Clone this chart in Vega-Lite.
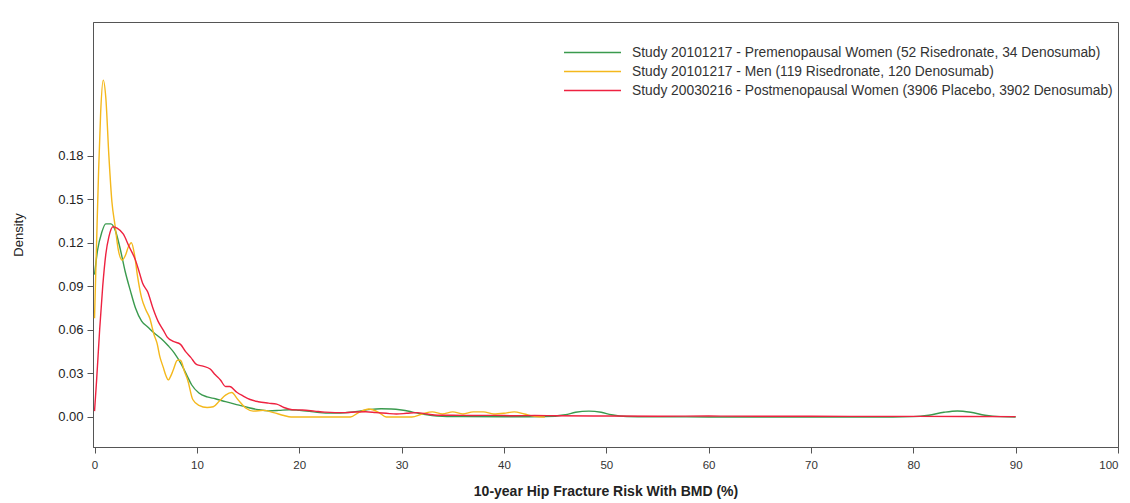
{
  "$schema": "https://vega.github.io/schema/vega-lite/v6.json",
  "width": 1025,
  "height": 425,
  "autosize": {"type": "none"},
  "padding": {"left": 93, "top": 22, "right": 12, "bottom": 56},
  "background": "white",
  "config": {
    "font": "Liberation Sans",
    "view": {"stroke": "#555", "strokeWidth": 1}
  },
  "data": {"values": [
    {"s":"G","x":0,"y":0.098},{"s":"G","x":0.3,"y":0.115},{"s":"G","x":0.7,"y":0.127},{"s":"G","x":1.1,"y":0.133},{"s":"G","x":1.6,"y":0.133},{"s":"G","x":2.0,"y":0.129},{"s":"G","x":2.5,"y":0.116},{"s":"G","x":3.0,"y":0.1},{"s":"G","x":3.5,"y":0.087},{"s":"G","x":4.0,"y":0.075},{"s":"G","x":4.6,"y":0.066},{"s":"G","x":5.2,"y":0.062},{"s":"G","x":5.8,"y":0.058},{"s":"G","x":6.5,"y":0.054},{"s":"G","x":7.2,"y":0.049},{"s":"G","x":7.8,"y":0.044},{"s":"G","x":8.5,"y":0.036},{"s":"G","x":9.0,"y":0.029},{"s":"G","x":9.5,"y":0.022},{"s":"G","x":10.2,"y":0.0165},{"s":"G","x":11.0,"y":0.0138},{"s":"G","x":11.8,"y":0.0125},{"s":"G","x":12.8,"y":0.0105},{"s":"G","x":14.0,"y":0.0083},{"s":"G","x":15.0,"y":0.0065},{"s":"G","x":16.0,"y":0.005},{"s":"G","x":17.0,"y":0.0042},{"s":"G","x":18.0,"y":0.0045},{"s":"G","x":19.0,"y":0.005},{"s":"G","x":20,"y":0.0045},{"s":"G","x":21,"y":0.0038},{"s":"G","x":22,"y":0.003},{"s":"G","x":23,"y":0.0026},{"s":"G","x":24,"y":0.0027},{"s":"G","x":25,"y":0.0032},{"s":"G","x":26,"y":0.0042},{"s":"G","x":27,"y":0.0052},{"s":"G","x":28,"y":0.0056},{"s":"G","x":29,"y":0.0055},{"s":"G","x":30,"y":0.0048},{"s":"G","x":31,"y":0.0035},{"s":"G","x":32,"y":0.002},{"s":"G","x":33,"y":0.001},{"s":"G","x":34,"y":0.0005},{"s":"G","x":36,"y":0.0002},{"s":"G","x":40,"y":0.0001},{"s":"G","x":44,"y":0.0002},{"s":"G","x":46,"y":0.0015},{"s":"G","x":47,"y":0.0032},{"s":"G","x":48.3,"y":0.004},{"s":"G","x":49.5,"y":0.0032},{"s":"G","x":50.5,"y":0.0015},{"s":"G","x":52,"y":0.0003},{"s":"G","x":55,"y":0.0001},{"s":"G","x":60,"y":0},{"s":"G","x":70,"y":0},{"s":"G","x":78,"y":0},{"s":"G","x":80,"y":0.0002},{"s":"G","x":81.5,"y":0.0012},{"s":"G","x":83,"y":0.0032},{"s":"G","x":84.3,"y":0.0041},{"s":"G","x":85.6,"y":0.0032},{"s":"G","x":87,"y":0.0012},{"s":"G","x":88.5,"y":0.0002},{"s":"G","x":90,"y":0},
    {"s":"Y","x":0,"y":0.068},{"s":"Y","x":0.2,"y":0.12},{"s":"Y","x":0.4,"y":0.17},{"s":"Y","x":0.6,"y":0.21},{"s":"Y","x":0.85,"y":0.232},{"s":"Y","x":1.1,"y":0.22},{"s":"Y","x":1.4,"y":0.18},{"s":"Y","x":1.7,"y":0.148},{"s":"Y","x":2.0,"y":0.132},{"s":"Y","x":2.3,"y":0.116},{"s":"Y","x":2.7,"y":0.108},{"s":"Y","x":3.0,"y":0.111},{"s":"Y","x":3.3,"y":0.117},{"s":"Y","x":3.6,"y":0.12},{"s":"Y","x":3.9,"y":0.112},{"s":"Y","x":4.2,"y":0.097},{"s":"Y","x":4.6,"y":0.082},{"s":"Y","x":5.0,"y":0.074},{"s":"Y","x":5.4,"y":0.068},{"s":"Y","x":5.8,"y":0.057},{"s":"Y","x":6.1,"y":0.051},{"s":"Y","x":6.4,"y":0.041},{"s":"Y","x":6.7,"y":0.0345},{"s":"Y","x":7.0,"y":0.028},{"s":"Y","x":7.2,"y":0.0255},{"s":"Y","x":7.5,"y":0.029},{"s":"Y","x":7.7,"y":0.0325},{"s":"Y","x":8.1,"y":0.039},{"s":"Y","x":8.4,"y":0.039},{"s":"Y","x":8.8,"y":0.031},{"s":"Y","x":9.1,"y":0.0255},{"s":"Y","x":9.6,"y":0.012},{"s":"Y","x":10.2,"y":0.008},{"s":"Y","x":11.0,"y":0.0065},{"s":"Y","x":11.6,"y":0.007},{"s":"Y","x":12.2,"y":0.011},{"s":"Y","x":12.8,"y":0.015},{"s":"Y","x":13.4,"y":0.0168},{"s":"Y","x":14.0,"y":0.012},{"s":"Y","x":14.8,"y":0.006},{"s":"Y","x":15.5,"y":0.004},{"s":"Y","x":16.5,"y":0.0045},{"s":"Y","x":17.5,"y":0.003},{"s":"Y","x":18.5,"y":0.001},{"s":"Y","x":19.2,"y":0},{"s":"Y","x":25,"y":0},{"s":"Y","x":25.8,"y":0.003},{"s":"Y","x":26.8,"y":0.0055},{"s":"Y","x":27.8,"y":0.003},{"s":"Y","x":28.5,"y":0},{"s":"Y","x":31,"y":0},{"s":"Y","x":32,"y":0.002},{"s":"Y","x":33,"y":0.0035},{"s":"Y","x":34,"y":0.002},{"s":"Y","x":35,"y":0.0035},{"s":"Y","x":36,"y":0.002},{"s":"Y","x":37,"y":0.0035},{"s":"Y","x":38,"y":0.0035},{"s":"Y","x":39,"y":0.002},{"s":"Y","x":40,"y":0.0025},{"s":"Y","x":41,"y":0.0035},{"s":"Y","x":42,"y":0.002},{"s":"Y","x":43,"y":0.0005},{"s":"Y","x":44,"y":0},
    {"s":"R","x":0,"y":0.004},{"s":"R","x":0.2,"y":0.025},{"s":"R","x":0.5,"y":0.06},{"s":"R","x":0.8,"y":0.09},{"s":"R","x":1.1,"y":0.112},{"s":"R","x":1.4,"y":0.124},{"s":"R","x":1.8,"y":0.131},{"s":"R","x":2.2,"y":0.13},{"s":"R","x":2.8,"y":0.126},{"s":"R","x":3.4,"y":0.117},{"s":"R","x":4.0,"y":0.108},{"s":"R","x":4.4,"y":0.099},{"s":"R","x":4.7,"y":0.092},{"s":"R","x":5.2,"y":0.086},{"s":"R","x":5.7,"y":0.075},{"s":"R","x":6.2,"y":0.066},{"s":"R","x":6.7,"y":0.06},{"s":"R","x":7.1,"y":0.055},{"s":"R","x":7.7,"y":0.052},{"s":"R","x":8.4,"y":0.05},{"s":"R","x":8.9,"y":0.045},{"s":"R","x":9.4,"y":0.041},{"s":"R","x":10.0,"y":0.036},{"s":"R","x":10.6,"y":0.035},{"s":"R","x":11.3,"y":0.033},{"s":"R","x":11.8,"y":0.029},{"s":"R","x":12.3,"y":0.0255},{"s":"R","x":12.8,"y":0.021},{"s":"R","x":13.2,"y":0.021},{"s":"R","x":13.9,"y":0.017},{"s":"R","x":14.5,"y":0.0145},{"s":"R","x":15.2,"y":0.012},{"s":"R","x":16,"y":0.0105},{"s":"R","x":17,"y":0.0095},{"s":"R","x":17.8,"y":0.0088},{"s":"R","x":18.5,"y":0.0065},{"s":"R","x":19.3,"y":0.005},{"s":"R","x":20.3,"y":0.0048},{"s":"R","x":21.5,"y":0.004},{"s":"R","x":22.5,"y":0.0033},{"s":"R","x":23.5,"y":0.003},{"s":"R","x":24.5,"y":0.003},{"s":"R","x":25.5,"y":0.0034},{"s":"R","x":26.5,"y":0.0036},{"s":"R","x":27.5,"y":0.003},{"s":"R","x":28.5,"y":0.0025},{"s":"R","x":29.5,"y":0.002},{"s":"R","x":30.5,"y":0.0025},{"s":"R","x":31.5,"y":0.003},{"s":"R","x":32.5,"y":0.002},{"s":"R","x":33.5,"y":0.0012},{"s":"R","x":35,"y":0.0012},{"s":"R","x":37,"y":0.001},{"s":"R","x":39,"y":0.0011},{"s":"R","x":41,"y":0.0008},{"s":"R","x":43,"y":0.001},{"s":"R","x":45,"y":0.0008},{"s":"R","x":50,"y":0.0006},{"s":"R","x":55,"y":0.0005},{"s":"R","x":60,"y":0.0006},{"s":"R","x":65,"y":0.0005},{"s":"R","x":70,"y":0.0005},{"s":"R","x":75,"y":0.0004},{"s":"R","x":80,"y":0.0004},{"s":"R","x":85,"y":0.0003},{"s":"R","x":90,"y":0.0002}
  ]},
  "mark": {"type": "line", "interpolate": "monotone", "strokeWidth": 1.4, "clip": true},
  "encoding": {
    "x": {
      "field": "x", "type": "quantitative",
      "scale": {"domain": [-0.15, 100], "nice": false, "zero": false},
      "axis": {
        "title": "10-year Hip Fracture Risk With BMD (%)",
        "values": [0,10,20,30,40,50,60,70,80,90,100],
        "grid": false, "domainColor": "#555", "tickColor": "#555", "tickSize": 6,
        "labelFontSize": 11.5, "labelColor": "#333", "labelPadding": 6,
        "titleFontSize": 14, "titleFontWeight": "bold", "titleColor": "#222", "titlePadding": 14
      }
    },
    "y": {
      "field": "y", "type": "quantitative",
      "scale": {"domain": [-0.0207, 0.272], "nice": false, "zero": false},
      "axis": {
        "title": "Density",
        "values": [0,0.03,0.06,0.09,0.12,0.15,0.18],
        "format": ".2f",
        "grid": false, "domainColor": "#555", "tickColor": "#555", "tickSize": 6,
        "labelFontSize": 13, "labelColor": "#222", "labelPadding": 4,
        "titleFontSize": 13, "titleFontWeight": "normal", "titleColor": "#222", "titlePadding": 32
      }
    },
    "color": {
      "field": "s", "type": "nominal",
      "scale": {"domain": ["G","Y","R"], "range": ["#3a9a4e", "#f4b81c", "#ee2240"]},
      "legend": {
        "title": null,
        "orient": "none",
        "legendX": 489,
        "legendY": 20,
        "symbolType": "M-3,0H3",
        "symbolSize": 361,
        "symbolStrokeWidth": 1.5,
        "symbolFillColor": "transparent",
        "labelFontSize": 13.8,
        "labelColor": "#333",
        "labelOffset": 29,
        "labelLimit": 700,
        "rowPadding": 1,
        "labelExpr": "datum.value == 'G' ? 'Study 20101217 - Premenopausal Women (52 Risedronate, 34 Denosumab)' : datum.value == 'Y' ? 'Study 20101217 - Men (119 Risedronate, 120 Denosumab)' : 'Study 20030216 - Postmenopausal Women (3906 Placebo, 3902 Denosumab)'"
      }
    }
  }
}
